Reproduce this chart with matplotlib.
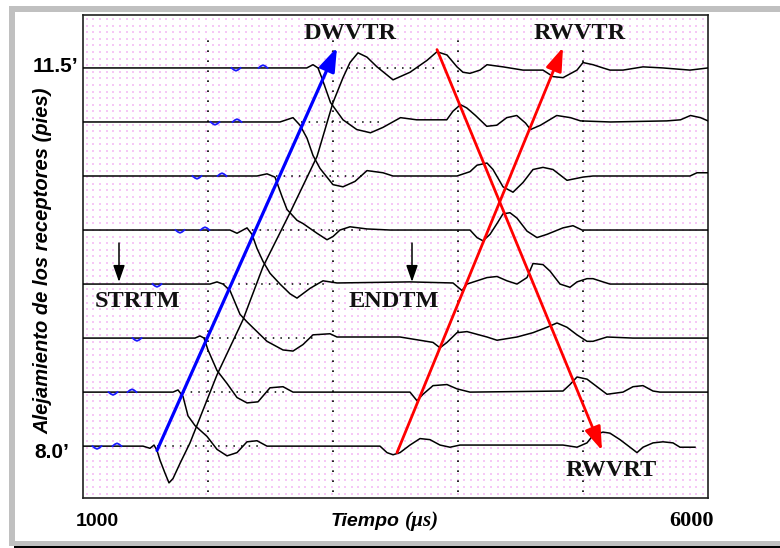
import matplotlib
matplotlib.use("Agg")
import matplotlib.pyplot as plt
from matplotlib.patches import Rectangle
import numpy as np

W, H = 780, 548
SANS = "Liberation Sans"
SERIF = "Liberation Serif"

# receiver offsets (ft)
offsets = [8.0, 8.5, 9.0, 9.5, 10.0, 10.5, 11.0, 11.5]

# traces: time (us) and amplitude (ft, relative to the receiver offset)
t_80 = [1000, 1480, 1536, 1568, 1592, 1616, 1656, 1688, 1720, 1776, 1856, 2072, 2280, 2440, 2656,
        2872, 3000, 3080, 3136, 3200, 3272, 3352, 3480, 3616, 3752, 3832, 3912, 3992, 4040, 4096,
        4176, 4232, 4360, 4520, 4680, 4760, 4840, 4952, 5000, 5080, 5160, 5216, 5320, 5480, 5640,
        5856, 6000]
a_80 = [0, 0, -0.02, 0.01, -0.04, -0.13, -0.25, -0.34, -0.30, -0.16, 0.03, 0.66, 1.17, 1.66, 2.16,
        2.68, 3.18, 3.41, 3.55, 3.64, 3.60, 3.51, 3.39, 3.46, 3.57, 3.65, 3.62, 3.51, 3.46, 3.45,
        3.48, 3.53, 3.51, 3.48, 3.48, 3.42, 3.41, 3.48, 3.55, 3.53, 3.50, 3.48, 3.48, 3.51, 3.50,
        3.48, 3.50]

t_85 = [1000, 1720, 1760, 1800, 1840, 1896, 1992, 2072, 2152, 2232, 2312, 2392, 2472, 3376, 3432,
        3480, 3536, 3616, 3696, 3776, 3856, 3936, 4016, 4840, 4952, 5032, 5080, 5160, 5216, 5296,
        5376, 5432, 5480, 5560, 5640, 5720, 5776, 5896]
a_85 = [0, 0, 0.02, -0.04, -0.22, -0.31, -0.41, -0.53, -0.59, -0.56, -0.46, -0.45, -0.50, -0.50, -0.56,
        -0.58, -0.56, -0.49, -0.43, -0.44, -0.49, -0.51, -0.49, -0.49, -0.51, -0.47, -0.40, -0.37,
        -0.38, -0.44, -0.51, -0.56, -0.51, -0.47, -0.46, -0.47, -0.51, -0.51]

t_90 = [1000, 1896, 1936, 1968, 2000, 2072, 2152, 2232, 2312, 2400, 2496, 2600, 2680, 3616, 3672,
        3720, 3800, 3912, 3992, 4096, 4840, 4896, 4952, 5032, 5112, 5192, 5320, 5400, 5480, 5560,
        5616, 6000]
a_90 = [0, 0, 0.02, 0, -0.11, -0.30, -0.42, -0.55, -0.60, -0.59, -0.46, -0.45, -0.50, -0.50, -0.58,
        -0.52, -0.44, -0.43, -0.47, -0.50, -0.49, -0.43, -0.36, -0.38, -0.45, -0.52, -0.50, -0.45,
        -0.44, -0.49, -0.50, -0.50]

t_95 = [1000, 2016, 2072, 2120, 2176, 2256, 2312, 2392, 2472, 2600, 2680, 2760, 2840, 2976, 3032,
        3536, 3800, 3856, 3912, 3992, 4072, 4232, 4312, 4472, 4600, 4712, 4792, 4872, 4952, 5032,
        5080, 5192, 5400, 6000]
a_95 = [0, 0, 0.02, 0, -0.06, -0.28, -0.35, -0.44, -0.53, -0.61, -0.62, -0.56, -0.47, -0.46, -0.49,
        -0.49, -0.54, -0.59, -0.54, -0.45, -0.44, -0.49, -0.52, -0.49, -0.45, -0.40, -0.36, -0.40,
        -0.47, -0.53, -0.53, -0.49, -0.50, -0.50]

t_100 = [1000, 2176, 2232, 2312, 2352, 2392, 2440, 2496, 2576, 2656, 2712, 2816, 2920, 3032, 3616,
         3960, 4032, 4072, 4152, 4232, 4312, 4392, 4472, 4552, 4600, 4680, 4736, 4816, 4896, 4952,
         5032, 5080, 5160, 5216, 6000]
a_100 = [0, 0, -0.03, 0.02, -0.04, -0.17, -0.29, -0.40, -0.50, -0.59, -0.63, -0.54, -0.47, -0.49,
         -0.48, -0.49, -0.56, -0.50, -0.47, -0.44, -0.43, -0.47, -0.50, -0.44, -0.31, -0.32, -0.38,
         -0.50, -0.53, -0.48, -0.45, -0.45, -0.48, -0.50, -0.50]

t_105 = [1000, 2392, 2472, 2536, 2592, 2632, 2712, 2760, 2872, 2952, 3000, 3056, 3136, 3272, 3456,
         4096, 4152, 4200, 4256, 4312, 4360, 4416, 4472, 4552, 4632, 4712, 4840, 4920, 4992, 6000]
a_105 = [0, 0, 0.02, -0.01, -0.19, -0.31, -0.41, -0.44, -0.53, -0.59, -0.56, -0.50, -0.47, -0.49,
         -0.50, -0.50, -0.57, -0.60, -0.54, -0.44, -0.35, -0.34, -0.39, -0.51, -0.57, -0.54, -0.48,
         -0.46, -0.50, -0.50]

t_110 = [1000, 2576, 2680, 2736, 2792, 2840, 2896, 3000, 3080, 3176, 3272, 3400, 3480, 3992, 4096,
         4152, 4232, 4280, 4360, 4440, 4520, 4600, 4680, 4760, 4872, 5000, 5080, 5856, 5912, 6000]
a_110 = [0, 0, 0.04, -0.03, -0.15, -0.31, -0.43, -0.58, -0.60, -0.55, -0.45, -0.47, -0.50, -0.50,
         -0.46, -0.40, -0.38, -0.44, -0.60, -0.65, -0.56, -0.44, -0.42, -0.44, -0.54, -0.51, -0.50,
         -0.50, -0.47, -0.47]

t_115 = [1000, 2790, 2840, 2880, 2910, 2980, 3080, 3190, 3300, 3400, 3540, 3670, 3910, 3960, 4020,
         4070, 4140, 4230, 4310, 4390, 4470, 4540, 4580, 4660, 4790, 4900, 4980, 5220, 5670, 5780,
         5860, 5940, 6000]
a_115 = [0, 0, 0.03, 0, -0.09, -0.32, -0.48, -0.57, -0.60, -0.55, -0.46, -0.48, -0.48, -0.40, -0.34,
         -0.37, -0.44, -0.54, -0.53, -0.46, -0.44, -0.51, -0.57, -0.53, -0.44, -0.46, -0.49, -0.50,
         -0.49, -0.48, -0.44, -0.46, -0.49]

trace_t = [t_80, t_85, t_90, t_95, t_100, t_105, t_110, t_115]
trace_a = [a_80, a_85, a_90, a_95, a_100, a_105, a_110, a_115]

# small blue markers on each trace (us), nan where there is none
dip_t = [1112, 1240, 1432, 1592, 1776, 1912, 2056, 2224]
bump_t = [1272, 1392, np.nan, np.nan, 1976, 2112, 2232, 2440]

# dotted baseline through the arrival zone of each trace (us)
gap_t0 = [1590, 1800, 1970, 2120, 2350, 2540, 2740, 2880]
gap_t1 = [2400, 2640, 2840, 2960, 3270, 3280, 3400, 3830]

grid_t = [2000, 3000, 4000, 5000]
grid_top = [0.965, 0.965, 0.965, 0.93]

# picked arrivals: (time us, offset ft) start -> end
dwvtr_t, dwvtr_z = [1592, 3032], [7.96, 11.69]
rwvtr_t, rwvtr_z = [3512, 4840], [7.94, 11.69]
rwvrt_t, rwvrt_z = [3832, 5152], [11.67, 7.96]
strtm, endtm = 1288, 3632

fig = plt.figure(figsize=(W / 100, H / 100), dpi=100)

# outer frame, laid out in pixels
bg = fig.add_axes([0, 0, 1, 1])
bg.set_xlim(0, W)
bg.set_ylim(H, 0)
bg.axis("off")
grey = "#c0c0c0"
bg.add_patch(Rectangle((9, 6), W - 9, 6, color=grey, lw=0))
bg.add_patch(Rectangle((9, 6), 6, 540, color=grey, lw=0))
bg.add_patch(Rectangle((9, 541), W - 9, 5, color=grey, lw=0))
bg.add_patch(Rectangle((14, 546.3), W - 14, 1.7, color="black", lw=0))

ax = fig.add_axes([83 / W, (H - 498) / H, 625 / W, 483 / H])
ax.set_zorder(1)
ax.set_xlim(1000, 6000)
ax.set_ylim(7.52, 11.99)
ax.set_xticks([])
ax.set_yticks([])
for s in ax.spines.values():
    s.set_linewidth(1.2)
    s.set_color("#202020")

# pink dot paper
gx, gy = np.meshgrid(np.arange(1030, 6000, 53), np.arange(7.56, 11.99, 0.061))
ax.scatter(gx.ravel(), gy.ravel(), s=1.4, marker="s", color="#f6c8f6", linewidths=0, zorder=0)

for t, top in zip(grid_t, grid_top):
    ax.axvline(t, 0.012, top, color="black", lw=1.2, ls=(0, (1, 5)), zorder=1)

for z, g0, g1 in zip(offsets, gap_t0, gap_t1):
    ax.plot([g0, g1], [z, z], color="black", lw=1.1, ls=(0, (1, 4)), zorder=1)

for z, t, a in zip(offsets, trace_t, trace_a):
    ax.plot(t, z + np.array(a), color="black", lw=1.1, zorder=3)

blip_dt = np.array([-36, -16, 0, 16, 36])
blip_a = np.array([0, -0.018, -0.026, -0.018, 0])
for z, d, b in zip(offsets, dip_t, bump_t):
    ax.plot(d + blip_dt, z + blip_a, color="#1a1aff", lw=1.3, zorder=4)
    if not np.isnan(b):
        ax.plot(b + blip_dt, z - blip_a, color="#1a1aff", lw=1.3, zorder=4)

def pick_arrow(t, z, color, lw):
    ax.annotate("", xy=(t[1], z[1]), xytext=(t[0], z[0]), zorder=5,
                arrowprops=dict(arrowstyle="-|>,head_length=1.3,head_width=0.45",
                                color=color, lw=lw, mutation_scale=11,
                                shrinkA=0, shrinkB=0))

pick_arrow(dwvtr_t, dwvtr_z, "#0000ff", 2.3)
pick_arrow(rwvtr_t, rwvtr_z, "#ff0000", 2.0)
pick_arrow(rwvrt_t, rwvrt_z, "#ff0000", 2.0)

for t in (strtm, endtm):
    ax.annotate("", xy=(t, 9.52), xytext=(t, 9.88), zorder=5,
                arrowprops=dict(arrowstyle="-|>,head_length=1.0,head_width=0.35",
                                color="black", lw=1.1, mutation_scale=10,
                                shrinkA=0, shrinkB=0))

lab = dict(family=SERIF, fontweight="bold", fontsize=17.5, color="#111111",
           ha="center", va="center", zorder=6)
ax.text(3136, 11.815, "DWVTR", **lab)
ax.text(4976, 11.815, "RWVTR", **lab)
ax.text(1440, 9.343, "STRTM", **lab)
ax.text(3488, 9.343, "ENDTM", **lab)
ax.text(5224, 7.778, "RWVRT", **lab)

# axis annotations in pixel positions
bg.text(78, 66, "11.5\u2019", family=SANS, fontweight="bold", fontsize=15,
        ha="right", va="center")
bg.text(69, 453, "8.0\u2019", family=SANS, fontweight="bold", fontsize=15,
        ha="right", va="center")
bg.text(43, 261, "Alejamiento de los receptores (pies)", family=SANS, fontweight="bold",
        fontstyle="italic", fontsize=14.5, rotation=90, ha="center", va="center")
bg.text(97, 521, "1000", family=SANS, fontweight="bold", fontsize=14, ha="center", va="center")
bg.text(400, 521, "Tiempo", family=SANS, fontweight="bold", fontstyle="italic", fontsize=14,
        ha="right", va="center")
bg.text(405, 521, "(\u00b5s)", family=SERIF, fontweight="bold", fontstyle="italic",
        fontsize=15, ha="left", va="center")
bg.text(691, 521, "6000", family=SERIF, fontweight="bold", fontsize=16, ha="center", va="center")

fig.savefig("out.png", dpi=100)
